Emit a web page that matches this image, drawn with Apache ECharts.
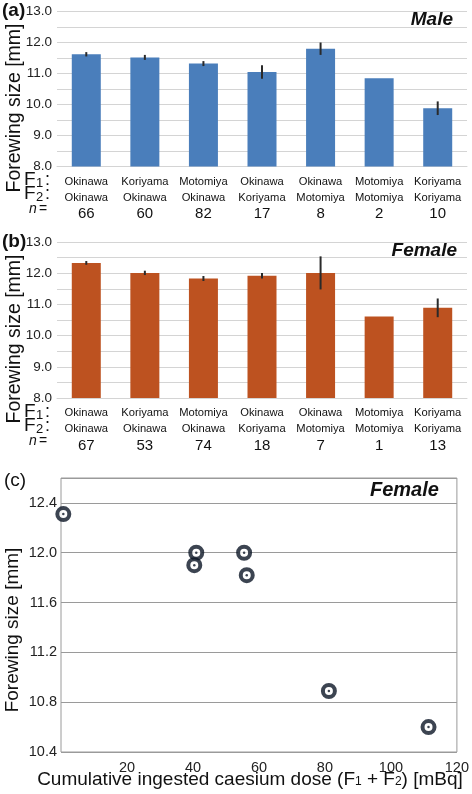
<!DOCTYPE html>
<html><head><meta charset="utf-8">
<script src="https://cdn.jsdelivr.net/npm/echarts@6/dist/echarts.min.js"></script>
<style>html,body{margin:0;padding:0;background:#fff}#c{width:472px;height:794px}</style>
</head><body><div id="c"></div>
<script>
const f1Male = ['Okinawa','Koriyama','Motomiya','Okinawa','Okinawa','Motomiya','Koriyama'];
const f2Male = ['Okinawa','Okinawa','Okinawa','Koriyama','Motomiya','Motomiya','Koriyama'];
const nMale = [66,60,82,17,8,2,10];
const maleMean = [11.62,11.52,11.32,11.05,11.80,10.85,9.88];
const maleErr = [0.07,0.08,0.08,0.22,0.20,0,0.22];

const f1Female = ['Okinawa','Koriyama','Motomiya','Okinawa','Okinawa','Motomiya','Koriyama'];
const f2Female = ['Okinawa','Okinawa','Okinawa','Koriyama','Motomiya','Motomiya','Koriyama'];
const nFemale = [67,53,74,18,7,1,13];
const femaleMean = [12.33,12.01,11.83,11.92,12.01,10.61,10.89];
const femaleErr = [0.06,0.07,0.08,0.09,0.53,0,0.30];

const doseX = [0.7,41.0,40.4,55.5,56.3,81.2,111.4];
const doseY = [12.31,12.00,11.90,12.00,11.82,10.89,10.60];

const barTicks = {min:8, max:13, interval:0.5};
const scatterY = {min:10.4, max:12.6, interval:0.4};
const scatterX = {min:0, max:120, interval:20};

const FONT = '"Liberation Sans", Arial, sans-serif';
const catIdx = f1Male.map((_, i) => i);

function catAxis(gridIndex, f1, f2, n) {
  return {
    type:'category', gridIndex, data: catIdx,
    axisLine:{show:true, lineStyle:{color:'#d4d4d4', width:1}},
    axisTick:{show:false},
    axisLabel:{
      margin:7, interval:0,
      formatter: v => `{c|${f1[v]}}\n{c|${f2[v]}}\n{n|${n[v]}}`,
      rich:{
        c:{fontFamily:FONT, fontSize:11.2, lineHeight:16, color:'#111'},
        n:{fontFamily:FONT, fontSize:15, lineHeight:17, color:'#111'}
      }
    }
  };
}
function valAxis(gridIndex) {
  return {
    type:'value', gridIndex, min:barTicks.min, max:barTicks.max, interval:barTicks.interval,
    axisLine:{show:false}, axisTick:{show:false},
    axisLabel:{margin:5, fontFamily:FONT, fontSize:13.5, color:'#222',
      formatter: v => (Math.abs(v - Math.round(v)) < 1e-6 ? v.toFixed(1) : '')},
    splitLine:{lineStyle:{color:'#d4d4d4', width:1}}
  };
}
function errSeries(idx, mean, err) {
  return {
    type:'custom', xAxisIndex:idx, yAxisIndex:idx, z:5,
    data: mean.map((m, i) => [i, m - err[i], m + err[i]]),
    renderItem: (params, api) => {
      if (api.value(2) - api.value(1) < 1e-9) return null;
      const lo = api.coord([api.value(0), api.value(1)]);
      const hi = api.coord([api.value(0), api.value(2)]);
      return {type:'line', shape:{x1:lo[0], y1:lo[1], x2:hi[0], y2:hi[1]},
        style:{stroke:'#2a2a2a', lineWidth:2}};
    }
  };
}
function rowLabels(yF1) {
  const t = (x, y, text, font) => ({type:'text', x, y,
    style:{text, font: font + ' ' + FONT, fill:'#111', align:'left', verticalAlign:'middle'}});
  return [
    t(24, yF1, 'F', '19px'), t(36, yF1 + 3, '1', '13px'), t(45, yF1, ':', '18px'),
    t(24, yF1 + 14, 'F', '19px'), t(36, yF1 + 17, '2', '13px'), t(45, yF1 + 14, ':', '18px'),
    t(29, yF1 + 29, 'n', 'italic 14px'), t(39, yF1 + 29, '=', '14px')
  ];
}

const chart = echarts.init(document.getElementById('c'), null, {renderer:'canvas'});
chart.setOption({
  animation:false,
  backgroundColor:'#fff',
  grid:[
    {left:57, right:5, top:11.5, height:155},
    {left:57, right:5, top:242, height:156},
    {left:61, right:7, top:478, height:274, show:true, borderColor:'#9a9a9a', borderWidth:1}
  ],
  xAxis:[
    catAxis(0, f1Male, f2Male, nMale),
    catAxis(1, f1Female, f2Female, nFemale),
    {type:'value', gridIndex:2, min:scatterX.min, max:scatterX.max, interval:scatterX.interval,
      axisLine:{show:false}, axisTick:{show:false}, splitLine:{show:false},
      axisLabel:{showMinLabel:false, margin:8, fontFamily:FONT, fontSize:14.5, color:'#222'}}
  ],
  yAxis:[
    valAxis(0), valAxis(1),
    {type:'value', gridIndex:2, min:scatterY.min, max:scatterY.max, interval:scatterY.interval,
      axisLine:{show:false}, axisTick:{show:false},
      axisLabel:{showMaxLabel:false, margin:4, fontFamily:FONT, fontSize:14.5, color:'#222',
        formatter: v => v.toFixed(1)},
      splitLine:{lineStyle:{color:'#9a9a9a', width:1}}}
  ],
  series:[
    {type:'bar', xAxisIndex:0, yAxisIndex:0, data:maleMean, barWidth:29,
      itemStyle:{color:'#4a7ebb'}},
    errSeries(0, maleMean, maleErr),
    {type:'bar', xAxisIndex:1, yAxisIndex:1, data:femaleMean, barWidth:29,
      itemStyle:{color:'#bd5220'}},
    errSeries(1, femaleMean, femaleErr),
    {type:'scatter', xAxisIndex:2, yAxisIndex:2, data:doseX.map((x,i)=>[x, doseY[i]]),
      symbol:'circle', symbolSize:12, z:3,
      itemStyle:{color:'#ffffff', borderColor:'#0b1526', borderWidth:4}},
    {type:'scatter', xAxisIndex:2, yAxisIndex:2, data:doseX.map((x,i)=>[x, doseY[i]]),
      symbol:'circle', symbolSize:2.5, z:4, itemStyle:{color:'#0b1526'}}
  ],
  graphic:[
    {type:'text', left:2, top:1, style:{text:'(a)', font:'bold 19px '+FONT, fill:'#111'}},
    {type:'text', left:2, top:232, style:{text:'(b)', font:'bold 19px '+FONT, fill:'#111'}},
    {type:'text', left:4, top:471, style:{text:'(c)', font:'19px '+FONT, fill:'#111'}},
    {type:'text', right:19, top:10, style:{text:'Male', font:'italic bold 19px '+FONT, fill:'#111'}},
    {type:'text', right:15, top:241, style:{text:'Female', font:'italic bold 19px '+FONT, fill:'#111'}},
    {type:'text', left:370, top:480, style:{text:'Female', font:'italic bold 20px '+FONT, fill:'#111'}},
    {type:'text', x:15, y:108, rotation:Math.PI/2,
      style:{text:'Forewing size [mm]', font:'19.5px '+FONT, fill:'#111', align:'center', verticalAlign:'middle'}},
    {type:'text', x:15, y:339, rotation:Math.PI/2,
      style:{text:'Forewing size [mm]', font:'19.5px '+FONT, fill:'#111', align:'center', verticalAlign:'middle'}},
    {type:'text', x:13, y:630, rotation:Math.PI/2,
      style:{text:'Forewing size [mm]', font:'19px '+FONT, fill:'#111', align:'center', verticalAlign:'middle'}},
    {type:'text', x:250, y:780,
      style:{text:'Cumulative ingested caesium dose (F{s|1} + F{s|2}) [mBq]', font:'19px '+FONT, fill:'#111',
        align:'center', verticalAlign:'middle', rich:{s:{fontSize:12, fontFamily:FONT, fill:'#111', padding:[4,0,0,0]}}}},
    ...rowLabels(180),
    ...rowLabels(412)
  ]
});
</script></body></html>
